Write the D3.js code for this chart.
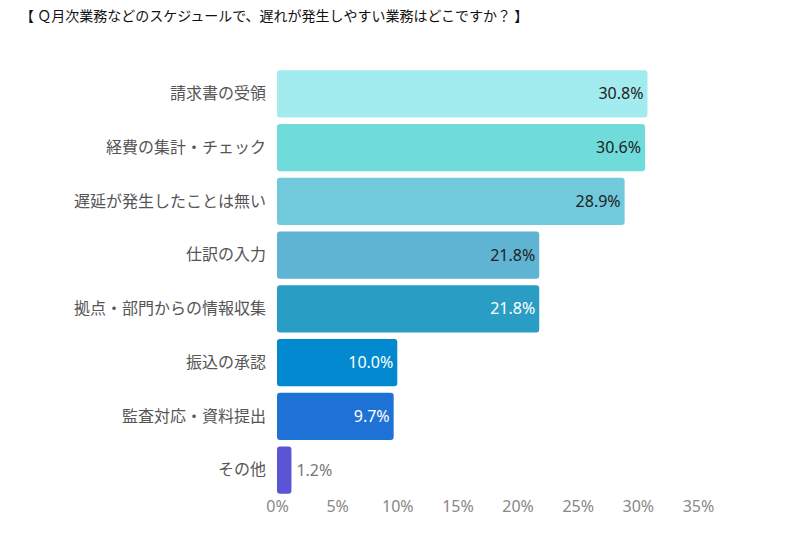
<!DOCTYPE html>
<html>
<head>
<meta charset="utf-8">
<script src="https://cdn.jsdelivr.net/npm/d3@7"></script>
<style>
  body { margin: 0; background: #fff; }
  text { font-family: "Noto Sans CJK JP", "Noto Sans", sans-serif; }
</style>
</head>
<body>
<svg id="chart" width="785" height="545"></svg>
<script>
const title = "【 Ｑ月次業務などのスケジュールで、遅れが発生しやすい業務はどこですか？ 】";
const categories = [
  "請求書の受領",
  "経費の集計・チェック",
  "遅延が発生したことは無い",
  "仕訳の入力",
  "拠点・部門からの情報収集",
  "振込の承認",
  "監査対応・資料提出",
  "その他"
];
const values = [30.8, 30.6, 28.9, 21.8, 21.8, 10.0, 9.7, 1.2];
const colors = ["#a2ebee", "#6fdcdb", "#71c9dc", "#5fb4d3", "#2a9dc5", "#0389cf", "#1f72d5", "#5b55d6"];
const labelColors = ["#222", "#222", "#222", "#222", "#fff", "#fff", "#fff", "#777"];
const ticks = [0, 5, 10, 15, 20, 25, 30, 35];

const svg = d3.select("#chart");

svg.append("text")
  .attr("x", 20).attr("y", 21)
  .attr("font-size", 14)
  .attr("fill", "#111")
  .text(title);

const x = d3.scaleLinear().domain([0, 35]).range([277, 698]);
const y = d3.scaleBand().domain(categories).range([67, 497]).paddingInner(0.12).paddingOuter(0.06);

const xAxis = svg.append("g")
  .attr("transform", "translate(0,497)")
  .call(d3.axisBottom(x).tickValues(ticks).tickFormat(d => d + "%").tickSize(0).tickPadding(4));
xAxis.select(".domain").remove();
xAxis.selectAll("text")
  .attr("font-size", 16)
  .attr("fill", "#888")
  .style("font-family", "'Noto Sans', sans-serif");

const yAxis = svg.append("g")
  .attr("transform", "translate(266,0)")
  .call(d3.axisLeft(y).tickSize(0).tickPadding(0));
yAxis.select(".domain").remove();
yAxis.selectAll("text")
  .attr("font-size", 16)
  .attr("fill", "#555")
  .style("font-family", "'Noto Sans CJK JP', sans-serif");

const rows = categories.map((c, i) => ({ c, v: values[i], color: colors[i], lc: labelColors[i] }));

svg.append("g").selectAll("rect")
  .data(rows)
  .join("rect")
  .attr("x", x(0))
  .attr("y", d => y(d.c))
  .attr("width", d => x(d.v) - x(0))
  .attr("height", y.bandwidth())
  .attr("rx", 3)
  .attr("fill", d => d.color);

svg.append("g").selectAll("text")
  .data(rows)
  .join("text")
  .attr("x", d => d.v < 3 ? x(d.v) + 5 : x(d.v) - 4)
  .attr("y", d => y(d.c) + y.bandwidth() / 2)
  .attr("dy", "0.35em")
  .attr("text-anchor", d => d.v < 3 ? "start" : "end")
  .attr("font-size", 16)
  .attr("fill", d => d.lc)
  .style("font-family", "'Noto Sans', sans-serif")
  .text(d => d.v.toFixed(1) + "%");
</script>
</body>
</html>
